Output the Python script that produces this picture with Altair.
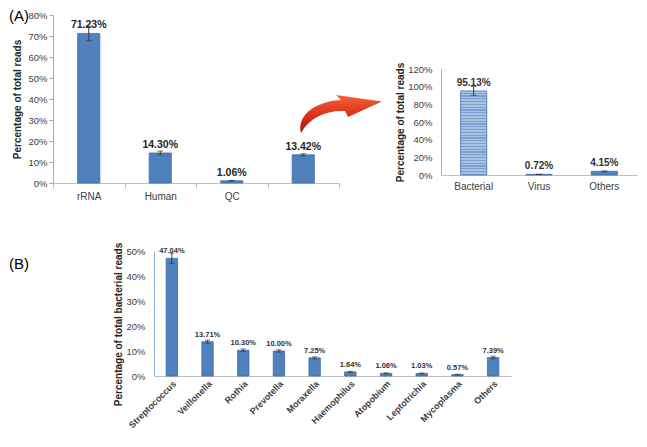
import altair as alt
import pandas as pd

FONT = "Liberation Sans"

# ---------------- data ----------------
a1_categories = ["rRNA", "Human", "QC", " "]
a1_values = [71.23, 14.30, 1.06, 13.42]
a1_errors = [3.5, 0.9, 0.2, 0.5]
a1_ticks = [0, 10, 20, 30, 40, 50, 60, 70, 80]

a2_categories = ["Bacterial", "Virus", "Others"]
a2_values = [95.13, 0.72, 4.15]
a2_errors = [5.0, 0.1, 0.4]
a2_ticks = [0, 20, 40, 60, 80, 100, 120]

b_categories = ["Streptococcus", "Veillonella", "Rothia", "Prevotella", "Moraxella",
                "Haemophilus", "Atopobium", "Leptotrichia", "Mycoplasma", "Others"]
b_values = [47.04, 13.71, 10.30, 10.00, 7.25, 1.64, 1.06, 1.03, 0.57, 7.39]
b_errors = [2.1, 0.6, 0.5, 0.5, 0.4, 0.2, 0.15, 0.15, 0.1, 0.5]
b_ticks = [0, 10, 20, 30, 40, 50]


def frame(cats, vals, errs):
    return pd.DataFrame({
        "cat": cats,
        "v": vals,
        "lo": [v - e for v, e in zip(vals, errs)],
        "hi": [v + e for v, e in zip(vals, errs)],
        "label": [f"{v:.2f}%" for v in vals],
    })


a1_df = frame(a1_categories, a1_values, a1_errors)
a2_df = frame(a2_categories, a2_values, a2_errors)
b_df = frame(b_categories, b_values, b_errors)

BAR = "#4F81BD"
BAR_EDGE = "#3E6DA8"
ERR = "#3A3A3A"
YDOMAIN = "#8EB4E3"
XDOMAIN = "#BFBFBF"


def error_layers(df, x, cap):
    rule = alt.Chart(df).mark_rule(color=ERR, strokeWidth=1).encode(x=x, y="lo:Q", y2="hi:Q")
    lo = alt.Chart(df).mark_tick(color=ERR, size=cap, thickness=1, orient="horizontal").encode(x=x, y="lo:Q")
    hi = alt.Chart(df).mark_tick(color=ERR, size=cap, thickness=1, orient="horizontal").encode(x=x, y="hi:Q")
    return [rule, lo, hi]


# ---------------- panel A (left) ----------------
x1 = alt.X("cat:N", sort=a1_categories,
           scale=alt.Scale(domain=a1_categories, range=[0, 286], paddingInner=0, paddingOuter=0),
           axis=alt.Axis(title=None, orient="bottom", tickBand="extent", ticks=True, tickSize=5,
                         tickColor=XDOMAIN, domainColor=XDOMAIN, labelAngle=0,
                         labelFontSize=10, labelPadding=3))
x1p = alt.X("cat:N", sort=a1_categories)
y1 = alt.Y("v:Q", scale=alt.Scale(domain=[0, 80], nice=False, range=[168, 0]),
           axis=alt.Axis(values=a1_ticks, tickCount=30, labelExpr="datum.value + '%'", orient="left",
                         labelOverlap=False, labelFlush=False,
                         title="Percentage of total reads", titleFontWeight="bold",
                         titleFontSize=10, domainColor=YDOMAIN, tickColor="#A6A6A6",
                         tickSize=4, labelFontSize=9.5, labelPadding=2, titlePadding=5))

bars1 = alt.Chart(a1_df).mark_bar(color=BAR, stroke=BAR_EDGE, strokeWidth=0.8,
                                  width=alt.RelativeBandSize(0.31)).encode(x=x1, y=y1)
text1 = alt.Chart(a1_df).mark_text(dy=-5, baseline="alphabetic", fontWeight="bold",
                                   fontSize=10.5, color="#262626").encode(x=x1p, y="v:Q", text="label:N")
tagA = alt.Chart(alt.Data(values=[{"t": "(A)"}])).mark_text(
    align="left", baseline="top", fontSize=15, color="#000000").encode(
    x=alt.value(-44), y=alt.value(-6), text="t:N")

ARROW = ("M -0.952 0.452 C -1.048 0.095 -0.714 -0.286 0 -0.333 "
         "L -0.119 -0.452 L 0.976 -0.298 L 0.167 0.071 L 0.095 -0.071 "
         "C -0.357 -0.095 -0.762 0.095 -0.952 0.452 Z")
arrow_fill = alt.Gradient(gradient="linear", x1=0, y1=0, x2=0, y2=1, stops=[
    alt.GradientStop(color="#F4603A", offset=0),
    alt.GradientStop(color="#D93018", offset=0.55),
    alt.GradientStop(color="#A8160C", offset=1),
])
arrow = alt.Chart(alt.Data(values=[{"a": 1}])).mark_point(
    shape=ARROW, size=7056, filled=True, fill=arrow_fill, opacity=1, strokeOpacity=0).encode(
    x=alt.value(288), y=alt.value(99))

A1 = alt.layer(bars1, *error_layers(a1_df, x1p, 6), text1, tagA, arrow)

# ---------------- panel A (right) ----------------
x2 = alt.X("cat:N", sort=a2_categories,
           scale=alt.Scale(domain=a2_categories, range=[388, 584], paddingInner=0, paddingOuter=0),
           axis=alt.Axis(title=None, orient="bottom", offset=-8, ticks=False, domainColor=XDOMAIN,
                         labelAngle=0, labelFontSize=10, labelPadding=6))
x2p = alt.X("cat:N", sort=a2_categories)
y2 = alt.Y("v:Q", scale=alt.Scale(domain=[0, 120], nice=False, range=[160, 54]),
           axis=alt.Axis(values=a2_ticks, tickCount=30, labelExpr="datum.value + '%'", ticks=False,
                         orient="left", offset=-388, labelOverlap=False, labelFlush=False,
                         title="Percentage of total reads", titleFontWeight="bold",
                         titleFontSize=10, domainColor=YDOMAIN, labelFontSize=9.5,
                         labelPadding=9, titlePadding=2))

stripe_n = 30
stripe_stops = []
for i in range(stripe_n):
    a = i / stripe_n
    b = (i + 0.55) / stripe_n
    c = (i + 1) / stripe_n
    stripe_stops += [alt.GradientStop(color="#A9C2E4", offset=a),
                     alt.GradientStop(color="#A9C2E4", offset=b),
                     alt.GradientStop(color="#7C9FD0", offset=b),
                     alt.GradientStop(color="#7C9FD0", offset=c)]
stripes = alt.Gradient(gradient="linear", x1=0, y1=0, x2=0, y2=1, stops=stripe_stops)

bars2s = alt.Chart(a2_df).transform_filter("datum.cat == 'Bacterial'").mark_bar(
    fill=stripes, stroke="#5B86C0", strokeWidth=1, width=alt.RelativeBandSize(0.4)).encode(x=x2, y=y2)
bars2 = alt.Chart(a2_df).transform_filter("datum.cat != 'Bacterial'").mark_bar(
    color=BAR, stroke=BAR_EDGE, strokeWidth=0.8, width=alt.RelativeBandSize(0.4)).encode(x=x2p, y="v:Q")
text2 = alt.Chart(a2_df).mark_text(dy=-5, baseline="alphabetic", fontWeight="bold",
                                   fontSize=10, color="#333333").encode(x=x2p, y="v:Q", text="label:N")

A2 = alt.layer(bars2s, bars2, *error_layers(a2_df, x2p, 6), text2)

top = alt.layer(A1, A2).resolve_scale(x="independent", y="independent").properties(width=584, height=168)

# ---------------- panel B ----------------
xb = alt.X("cat:N", sort=b_categories,
           scale=alt.Scale(domain=b_categories, range=[101, 458], paddingInner=0, paddingOuter=0),
           axis=alt.Axis(title=None, ticks=False, domainColor=XDOMAIN, labelAngle=-45,
                         labelFontSize=9, labelFontWeight="bold", labelPadding=3))
xbp = alt.X("cat:N", sort=b_categories)
yb = alt.Y("v:Q", scale=alt.Scale(domain=[0, 50], nice=False),
           axis=alt.Axis(values=b_ticks, tickCount=30, labelExpr="datum.value + '%'", ticks=False,
                         offset=-101, labelOverlap=False, labelFlush=False,
                         title="Percentage of total bacterial reads", titleFontWeight="bold",
                         titleFontSize=10, titleY=73, domainColor=YDOMAIN, labelFontSize=9.5,
                         labelPadding=9, titlePadding=2))

barsb = alt.Chart(b_df).mark_bar(color=BAR, stroke=BAR_EDGE, strokeWidth=0.8,
                                 width=alt.RelativeBandSize(0.32)).encode(x=xb, y=yb)
textb = alt.Chart(b_df).mark_text(dy=-5, baseline="alphabetic", fontWeight="bold",
                                  fontSize=7.5, color="#333333").encode(x=xbp, y="v:Q", text="label:N")
tagB = alt.Chart(alt.Data(values=[{"t": "(B)"}])).mark_text(
    align="left", baseline="top", fontSize=15, color="#000000").encode(
    x=alt.value(-44), y=alt.value(6), text="t:N")

B = alt.layer(barsb, *error_layers(b_df, xbp, 5), textb, tagB).properties(width=458, height=125)

chart = alt.vconcat(top, B, spacing=68, bounds="flush").properties(padding=0).configure_axis(
    labelFont=FONT, titleFont=FONT, labelColor="#404040", titleColor="#262626", grid=False
).configure_text(font=FONT).configure_view(stroke="transparent")

chart.save("out.html", embed_options={"renderer": "svg", "actions": False})
